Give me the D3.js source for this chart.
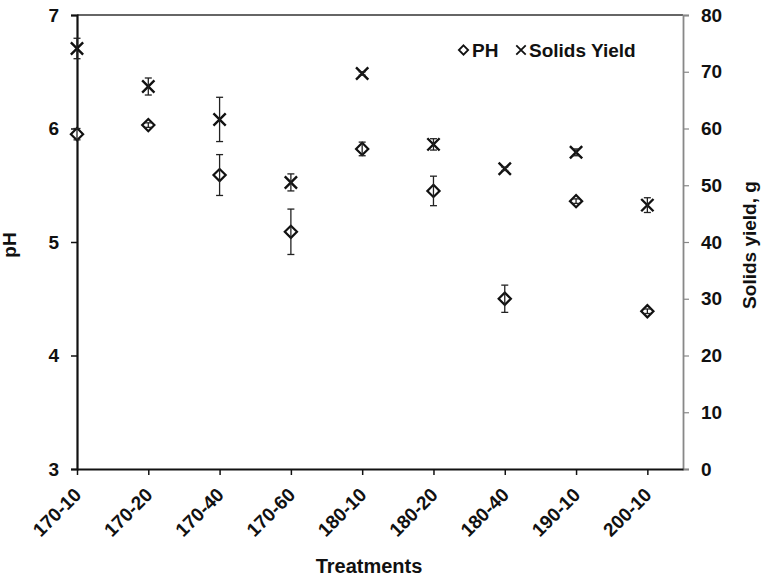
<!DOCTYPE html>
<html lang="en">
<head>
<meta charset="UTF-8">
<title>pH and solids yield by treatment</title>
<script src="https://d3js.org/d3.v7.min.js"></script>
<style>
  body { margin: 0; background: #fff; }
  text { font-family: "Liberation Sans", Arial, sans-serif; font-weight: bold; fill: #111; }
</style>
</head>
<body>
<svg id="chart" width="762" height="576"></svg>
<script>
// treatments on the x axis
const treatments = ["170-10", "170-20", "170-40", "170-60", "180-10", "180-20", "180-40", "190-10", "200-10"];
// pH (left axis) and its error
const phValues = [5.95, 6.03, 5.59, 5.09, 5.82, 5.45, 4.50, 5.36, 4.39];
const phErr    = [0.05, 0.02, 0.18, 0.20, 0.06, 0.13, 0.12, 0.02, 0.02];
// solids yield, g (right axis) and its error
const yieldValues = [74.1, 67.4, 61.6, 50.5, 69.7, 57.2, 52.9, 55.8, 46.5];
const yieldErr    = [1.8, 1.5, 3.9, 1.5, 0.3, 1.0, 0.3, 0.6, 1.3];
const phTicks = [3, 4, 5, 6, 7];
const yieldTicks = [0, 10, 20, 30, 40, 50, 60, 70, 80];

const svg = d3.select("#chart");
const plotL = 77, plotR = 683, plotT = 15, plotB = 469;

const x = d3.scaleLinear().domain([0, treatments.length - 0.5]).range([plotL, plotR]);
const yPh = d3.scaleLinear().domain([3, 7]).range([plotB, plotT]);
const yYield = d3.scaleLinear().domain([0, 80]).range([plotB, plotT]);

// top border
svg.append("line").attr("x1", plotL).attr("x2", plotR).attr("y1", plotT).attr("y2", plotT)
  .attr("stroke", "#333").attr("stroke-width", 1.5);

// right axis (grey)
const rAxis = svg.append("g").attr("transform", `translate(${plotR},0)`)
  .call(d3.axisRight(yYield).tickValues(yieldTicks).tickSize(6).tickPadding(12));
rAxis.select(".domain").attr("stroke", "#888").attr("stroke-width", 1.8);
rAxis.selectAll(".tick line").attr("stroke", "#888").attr("stroke-width", 1.2);
rAxis.selectAll("text").style("font-size", "19px");

// left axis
const lAxis = svg.append("g").attr("transform", `translate(${plotL},0)`)
  .call(d3.axisLeft(yPh).tickValues(phTicks).tickFormat(d3.format("d")).tickSize(6).tickPadding(12));
lAxis.select(".domain").attr("stroke", "#111").attr("stroke-width", 2.2);
lAxis.selectAll(".tick line").attr("stroke", "#111").attr("stroke-width", 1.5);
lAxis.selectAll("text").style("font-size", "19px");

// bottom axis
const bAxis = svg.append("g").attr("transform", `translate(0,${plotB})`)
  .call(d3.axisBottom(x).tickValues(d3.range(treatments.length)).tickFormat(i => treatments[i]).tickSize(6).tickSizeOuter(0));
bAxis.select(".domain").attr("stroke", "#111").attr("stroke-width", 2.2);
bAxis.selectAll(".tick line").attr("stroke", "#111").attr("stroke-width", 1.5);
bAxis.selectAll("text")
  .style("font-size", "19px")
  .attr("text-anchor", "end")
  .attr("dy", null).attr("y", 0)
  .attr("transform", "translate(5,27) rotate(-45)");

// error bars
function errorBars(vals, errs, scale) {
  const g = svg.append("g").attr("stroke", "#222").attr("stroke-width", 1.3).attr("fill", "none");
  vals.forEach((v, i) => {
    const cx = x(i), y1 = scale(v - errs[i]), y2 = scale(v + errs[i]);
    g.append("line").attr("x1", cx).attr("x2", cx).attr("y1", y1).attr("y2", y2);
    g.append("line").attr("x1", cx - 3.5).attr("x2", cx + 3.5).attr("y1", y1).attr("y2", y1);
    g.append("line").attr("x1", cx - 3.5).attr("x2", cx + 3.5).attr("y1", y2).attr("y2", y2);
  });
}

// pH diamonds
svg.append("g").selectAll("path").data(phValues).join("path")
  .attr("d", d3.symbol(d3.symbolDiamond2, 95))
  .attr("transform", (d, i) => `translate(${x(i)},${yPh(d)})`)
  .attr("fill", "#fff").attr("stroke", "#111").attr("stroke-width", 2.2);

// yield crosses
svg.append("g").selectAll("path").data(yieldValues).join("path")
  .attr("d", d3.symbol(d3.symbolX, 100))
  .attr("transform", (d, i) => `translate(${x(i)},${yYield(d)})`)
  .attr("fill", "none").attr("stroke", "#111").attr("stroke-width", 2.4);

errorBars(phValues, phErr, yPh);
errorBars(yieldValues, yieldErr, yYield);

// legend
const lg = svg.append("g");
lg.append("path").attr("d", d3.symbol(d3.symbolDiamond2, 55)).attr("transform", "translate(463.5,50)")
  .attr("fill", "#fff").attr("stroke", "#111").attr("stroke-width", 1.8);
lg.append("text").attr("x", 472).attr("y", 57).style("font-size", "19px").text("PH");
lg.append("path").attr("d", d3.symbol(d3.symbolX, 60)).attr("transform", "translate(521,50)")
  .attr("fill", "none").attr("stroke", "#111").attr("stroke-width", 1.8);
lg.append("text").attr("x", 529).attr("y", 57).style("font-size", "19px").text("Solids Yield");

// axis titles
svg.append("text").attr("transform", "translate(16,245) rotate(-90)").attr("text-anchor", "middle")
  .style("font-size", "19px").text("pH");
svg.append("text").attr("transform", "translate(756,245) rotate(-90)").attr("text-anchor", "middle")
  .style("font-size", "19px").text("Solids yield, g");
svg.append("text").attr("x", 369).attr("y", 573).attr("text-anchor", "middle")
  .style("font-size", "20px").text("Treatments");
</script>
</body>
</html>
